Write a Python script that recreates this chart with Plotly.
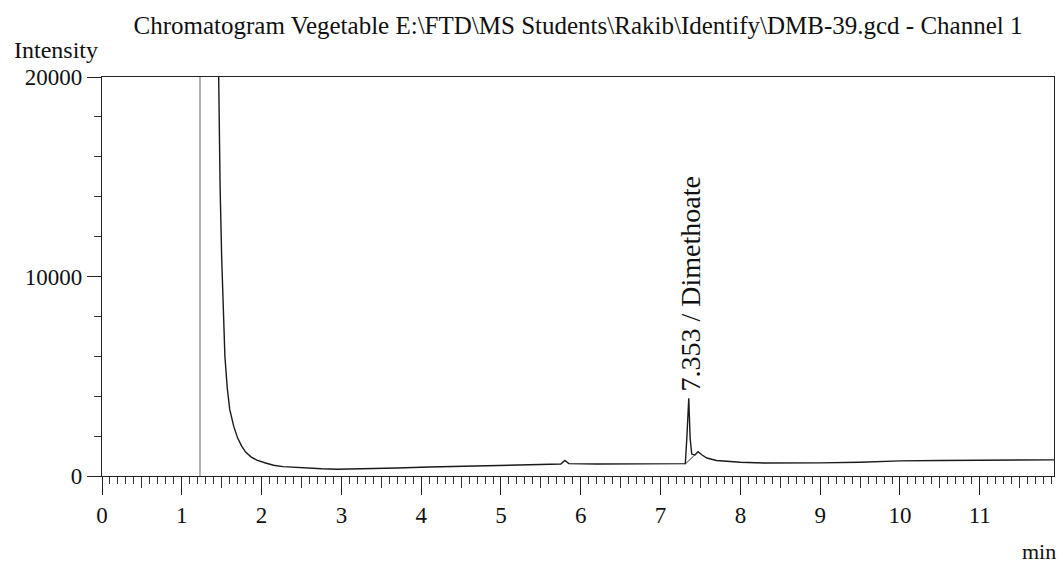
import plotly.graph_objects as go

# ---- data ----
time_min = [1.43, 1.457, 1.48, 1.50, 1.52, 1.54, 1.57, 1.60, 1.65, 1.70, 1.75, 1.80, 1.87,
            1.94, 2.05, 2.15, 2.27, 2.50, 2.75, 2.95, 3.30, 3.70, 4.10, 4.50, 5.00, 5.50,
            5.75, 5.80, 5.85, 6.20, 6.60, 7.00, 7.20, 7.31, 7.33, 7.353, 7.37, 7.39, 7.43,
            7.47, 7.52, 7.58, 7.70, 7.85, 8.00, 8.30, 8.60, 9.00, 9.50, 10.00, 10.50,
            11.00, 11.50, 11.93]
intensity = [30000, 20000, 14500, 10900, 8000, 6000, 4400, 3350, 2500, 1900, 1500, 1200, 950,
             800, 650, 540, 470, 400, 360, 340, 360, 400, 450, 490, 530, 570,
             600, 780, 620, 600, 620, 640, 650, 620, 2000, 3900, 1900, 1100, 1050,
             1220, 1050, 900, 780, 720, 690, 650, 640, 660, 690, 760, 780,
             800, 790, 810]

peak_time = 7.353
peak_height = 3900
peak_label = "7.353 / Dimethoate"
peak_base_time = [7.31, 7.47]
peak_base_int = [600, 1220]

solvent_cut_time = 1.228

x_range = [0, 11.93]
y_range = [0, 20000]
x_ticks = list(range(0, 12))
y_ticks = [0, 10000, 20000]
y_tick_text = ["0", "10000", "20000"]
x_mid_ticks = [i + 0.5 for i in range(0, 12)]

title_text = "Chromatogram Vegetable E:\\FTD\\MS Students\\Rakib\\Identify\\DMB-39.gcd - Channel 1"

FONT = "Liberation Serif, Times New Roman, serif"
INK = "#111111"

fig = go.Figure()

fig.add_trace(go.Scatter(
    x=time_min, y=intensity, mode="lines",
    line=dict(color="#1a1a1a", width=1.4), showlegend=False, hoverinfo="skip"))

fig.add_trace(go.Scatter(
    x=peak_base_time, y=peak_base_int, mode="lines", xaxis="x2",
    line=dict(color="#333333", width=1.0), showlegend=False, hoverinfo="skip"))

fig.add_shape(type="line", xref="x", yref="paper",
              x0=solvent_cut_time, x1=solvent_cut_time, y0=0, y1=1,
              line=dict(color="#9a9a9a", width=1.5))

fig.add_annotation(x=peak_time, y=peak_height, xref="x", yref="y",
                   text=peak_label, textangle=-90, showarrow=False,
                   xanchor="center", yanchor="bottom", yshift=5, xshift=2,
                   font=dict(family=FONT, size=28, color=INK))

fig.add_annotation(x=0, y=1, xref="paper", yref="paper", text="Intensity",
                   showarrow=False, xanchor="right", yanchor="bottom",
                   xshift=-2, yshift=12,
                   font=dict(family=FONT, size=24, color=INK))

fig.add_annotation(x=1, y=0, xref="paper", yref="paper", text="min",
                   showarrow=False, xanchor="right", yanchor="top",
                   xshift=4, yshift=-61,
                   font=dict(family=FONT, size=22, color=INK))

fig.update_layout(
    width=1063, height=565,
    margin=dict(l=102, r=9, t=77, b=89),
    paper_bgcolor="white", plot_bgcolor="white",
    title=dict(text=title_text, xref="paper", x=0.5, xanchor="center",
               yref="container", y=1 - 25 / 565, yanchor="middle",
               font=dict(family=FONT, size=25, color=INK)),
    xaxis=dict(range=x_range, tickvals=x_ticks, ticks="outside", ticklen=18,
               tickwidth=1.3, tickcolor="#222", showline=True, linecolor="#222",
               linewidth=1.3, mirror=True, showgrid=False, zeroline=False,
               tickfont=dict(family=FONT, size=23, color=INK),
               minor=dict(dtick=0.1, tick0=0, ticks="outside", ticklen=7,
                          tickwidth=1, tickcolor="#333", showgrid=False)),
    xaxis2=dict(matches="x", overlaying="x", anchor="y", side="bottom",
                tickvals=x_mid_ticks, ticks="outside", ticklen=11, tickwidth=1,
                tickcolor="#333", showticklabels=False, showline=False,
                showgrid=False, zeroline=False),
    yaxis=dict(range=y_range, tickvals=y_ticks, ticktext=y_tick_text,
               ticks="outside", ticklen=14,
               tickwidth=1.3, tickcolor="#222", showline=True, linecolor="#222",
               linewidth=1.3, mirror=True, showgrid=False, zeroline=False,
               tickfont=dict(family=FONT, size=23, color=INK),
               minor=dict(dtick=2000, tick0=0, ticks="outside", ticklen=7,
                          tickwidth=1, tickcolor="#333", showgrid=False)),
)

fig.write_html("out.html")
